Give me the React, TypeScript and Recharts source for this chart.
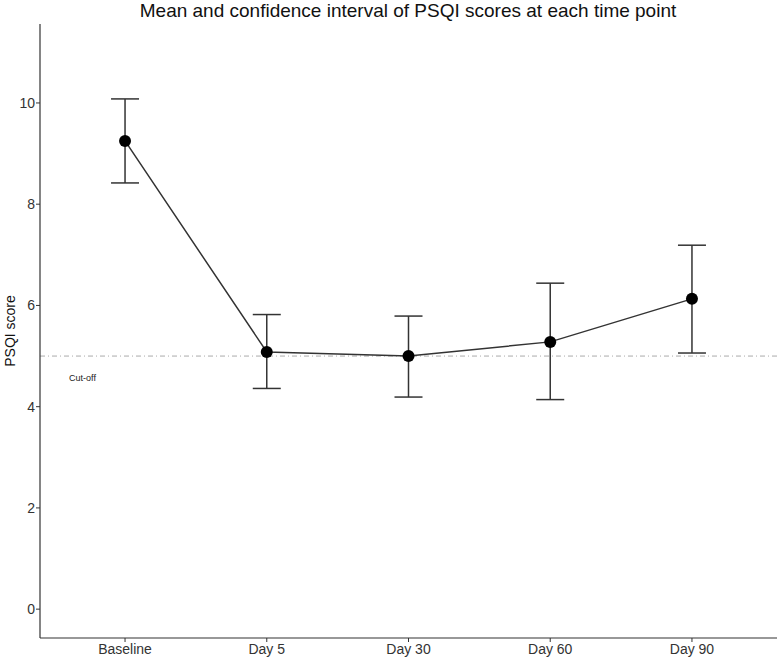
import { ComposedChart, Line, XAxis, YAxis, ErrorBar, ReferenceLine, ReferenceDot, Label } from "recharts";

const timePoints = ["Baseline", "Day 5", "Day 30", "Day 60", "Day 90"];
const means = [9.25, 5.08, 5.0, 5.28, 6.13];
const lowerCI = [8.42, 4.36, 4.19, 4.14, 5.06];
const upperCI = [10.08, 5.82, 5.79, 6.44, 7.19];
const yTicks = [0, 2, 4, 6, 8, 10];
const cutoff = 5;

const data = timePoints.map((name, i) => ({
  x: i,
  name,
  mean: means[i],
  ci: [means[i] - lowerCI[i], upperCI[i] - means[i]],
}));

const font = "Arial, 'Liberation Sans', Helvetica, sans-serif";

const XTick = (props: any) => {
  const { x, y, payload } = props;
  return (
    <text x={x} y={y + 10} textAnchor="middle" fontSize={14} fill="#333" fontFamily={font}>
      {timePoints[payload.value]}
    </text>
  );
};

const YTick = (props: any) => {
  const { x, y, payload } = props;
  return (
    <text x={x + 1} y={y + 5} textAnchor="end" fontSize={14} fill="#333" fontFamily={font}>
      {payload.value}
    </text>
  );
};

export default function App() {
  return (
    <div style={{ position: "absolute", left: 0, top: 0, width: 778, height: 659, background: "#fff" }}>
      <svg width={778} height={30} style={{ position: "absolute", left: 0, top: 0 }}>
        <text x={408} y={17} textAnchor="middle" fontSize={19} fill="#111" fontFamily={font}>
          Mean and confidence interval of PSQI scores at each time point
        </text>
      </svg>
      <div style={{ position: "absolute", left: 0, top: 0 }}>
        <ComposedChart width={778} height={659} data={data} margin={{ top: 24, right: 1, bottom: 0, left: 0 }}>
          <XAxis
            dataKey="x"
            type="number"
            domain={[-0.6, 4.6]}
            ticks={[0, 1, 2, 3, 4]}
            allowDataOverflow
            height={21}
            axisLine={{ stroke: "#333", strokeWidth: 1.2 }}
            tickLine={{ stroke: "#333" }}
            tickSize={4}
            tickMargin={2}
            tick={<XTick />}
          />
          <YAxis
            type="number"
            domain={[-0.57, 11.56]}
            ticks={yTicks}
            allowDataOverflow
            width={40}
            axisLine={{ stroke: "#333", strokeWidth: 1.2 }}
            tickLine={{ stroke: "#333" }}
            tickSize={4}
            tick={<YTick />}
          >
            <Label
              value="PSQI score"
              angle={-90}
              position="insideLeft"
              offset={10}
              style={{ textAnchor: "middle", fontSize: 14, fill: "#111", fontFamily: font }}
            />
          </YAxis>
          <ReferenceLine y={cutoff} stroke="#aaa" strokeWidth={1} strokeDasharray="5 3 1 3" />
          <ReferenceDot
            x={-0.3}
            y={4.58}
            r={0}
            fill="none"
            stroke="none"
            label={{ value: "Cut-off", position: "center", fontSize: 9, fill: "#222", fontFamily: font }}
          />
          <Line
            dataKey="mean"
            stroke="#333"
            strokeWidth={1.5}
            dot={{ r: 6, fill: "#000", stroke: "#000", strokeWidth: 0 }}
            isAnimationActive={false}
          >
            <ErrorBar dataKey="ci" direction="y" width={14} stroke="#333" strokeWidth={1.5} />
          </Line>
        </ComposedChart>
      </div>
    </div>
  );
}
